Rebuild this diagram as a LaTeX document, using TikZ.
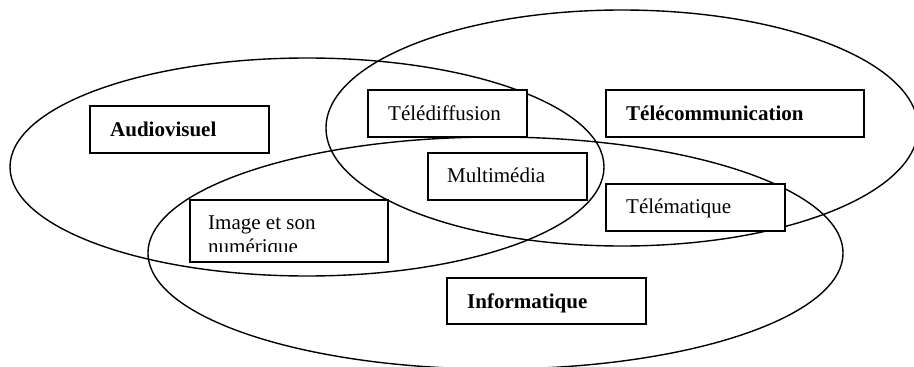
\documentclass[tikz,border=0pt]{standalone}
\usepackage{fontspec}
\setmainfont{Liberation Serif}
\begin{document}
\begin{tikzpicture}[x=1pt,y=-1pt,
  ring/.style={draw=black,line width=1.4pt},
  boxnode/.style={draw=black,fill=white,line width=1.5pt,anchor=north west,inner sep=0pt},
  lbl/.style={anchor=base west,inner sep=0pt,font=\fontsize{21}{24}\selectfont},
  blbl/.style={lbl,font=\fontsize{21}{24}\selectfont\bfseries}]
\useasboundingbox (0,0) rectangle (914,367);
\clip (0,0) rectangle (914,367);
% ellipses
\draw[ring] (307,167) ellipse [x radius=297, y radius=109];
\draw[ring] (622,128) ellipse [x radius=296, y radius=118];
\draw[ring] (495.5,253) ellipse [x radius=347.5, y radius=116];
% boxes
\node[boxnode,minimum width=179,minimum height=47] (bav) at (89,105) {};
\node[boxnode,minimum width=159,minimum height=47] (btd) at (367,89) {};
\node[boxnode,minimum width=258,minimum height=47] (btc) at (605,89) {};
\node[boxnode,minimum width=159,minimum height=47] (bmm) at (427,152) {};
\node[boxnode,minimum width=179,minimum height=47] (btm) at (605,183) {};
\node[boxnode,minimum width=198,minimum height=62] (bim) at (189,199) {};
\node[boxnode,minimum width=199,minimum height=46] (bin) at (446,277) {};
% labels
\node[blbl] (tav) at (110,136) {Audiovisuel};
\node[lbl] (ttd) at (388,120) {Télédiffusion};
\node[blbl] (ttc) at (626,120) {Télécommunication};
\node[lbl] (tmm) at (447,182) {Multimédia};
\node[lbl] (ttm) at (626,213) {Télématique};
\node[blbl] (tin) at (467,308) {Informatique};
\begin{scope}
\clip (191,201) rectangle (385,251);
\node[lbl,align=left] (tim) at (208,253) {Image et son\\numérique};
\end{scope}
\end{tikzpicture}
\end{document}
